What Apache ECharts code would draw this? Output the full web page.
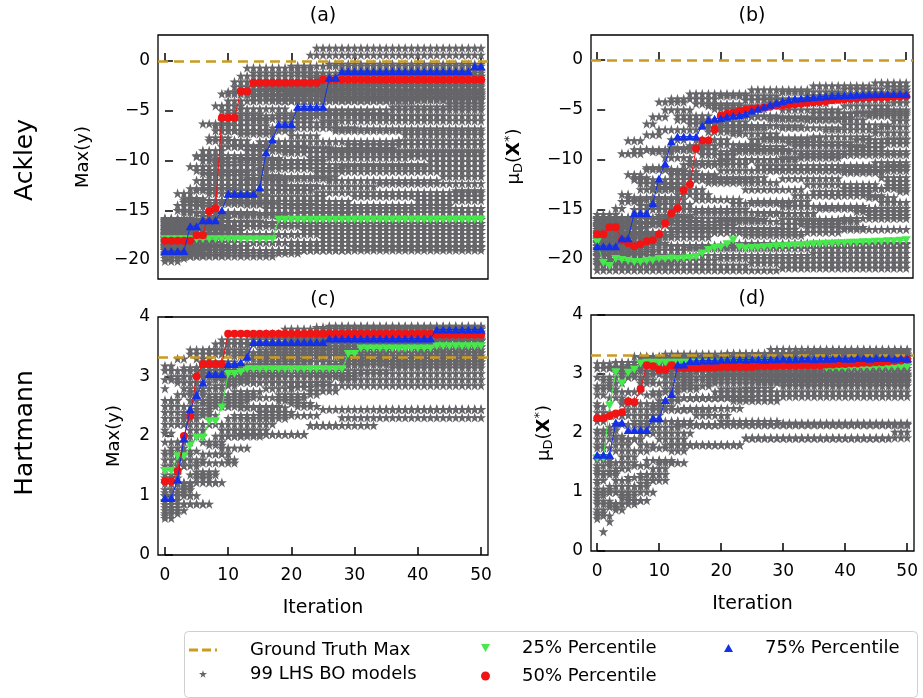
<!DOCTYPE html>
<html><head><meta charset="utf-8">
<script src="https://cdn.jsdelivr.net/npm/echarts@6/dist/echarts.min.js"></script>
<style>html,body{margin:0;padding:0;background:#fff}#c{width:923px;height:698px}</style>
</head><body><div id="c"></div><script>
// ---------------- DATA ----------------
const iterations = [0,1,2,3,4,5,6,7,8,9,10,11,12,13,14,15,16,17,18,19,20,21,22,23,24,25,26,27,28,29,30,31,32,33,34,35,36,37,38,39,40,41,42,43,44,45,46,47,48,49,50];
const xTickValues = [0,10,20,30,40,50];
const ackleyTickValues = [-20,-15,-10,-5,0];
const hartmannTickValues = [0,1,2,3,4];
const ackleyGroundTruth = 0;
const hartmannGroundTruth = 3.32;

// Each model: change points [iteration, value]; the value holds until the next change point
const ackleyMaxModels = [
 [[0,-20.1],[3,-19.6],[18,-19.0]],
 [[0,-19.5],[10,-19.0],[30,-18.7]],
 [[0,-19.0],[20,-18.6]],
 [[0,-18.6],[14,-18.2]],
 [[0,-18.2],[25,-17.8]],
 [[0,-17.8],[12,-17.4]],
 [[0,-17.4],[22,-17.0]],
 [[0,-17.0],[8,-16.6]],
 [[0,-16.6],[16,-16.3]],
 [[0,-16.2],[18,-15.9]],
 [[0,-15.8],[5,-15.3],[30,-14.8]],
 [[0,-17.5],[4,-10.6],[8,-4.5],[13,-0.7],[24,1.3]],
 [[0,-18.5],[3,-13.8],[6,-6.3],[11,-2.1],[20,-0.5]],
 [[0,-16.0],[2,-14.5],[6,-9.0],[10,-3.1],[28,-1.0]],
 [[0,-17.0],[4,-12.8],[9,-5.0],[12,-1.5]],
 [[0,-18.8],[5,-11.0],[10,-4.0],[15,-2.4],[35,-1.5]],
 [[0,-16.4],[7,-8.0],[12,-2.9],[30,-2.0]],
 [[0,-17.6],[8,-6.5],[13,-3.4],[22,-2.4]],
 [[0,-19.2],[6,-12.0],[14,-4.0],[26,-2.9]],
 [[0,-15.9],[9,-9.5],[16,-3.4]],
 [[0,-17.9],[10,-7.0],[18,-4.0],[40,-3.4]],
 [[0,-16.9],[12,-5.5],[45,-4.3]],
 [[0,-18.1],[8,-10.5],[20,-7.5],[25,-6.0]],
 [[0,-17.3],[6,-12.5],[15,-8.1],[38,-7.4]],
 [[0,-18.7],[10,-11.5],[19,-9.2]],
 [[0,-16.7],[11,-12.0],[20,-10.4],[42,-10.1]],
 [[0,-19.0],[14,-13.0],[24,-11.1]],
 [[0,-17.7],[12,-13.6],[26,-12.0],[44,-11.6]],
 [[0,-18.3],[9,-14.1],[30,-13.6]],
 [[0,-16.1],[16,-14.8],[40,-14.0]],
 [[0,-19.3],[22,-15.2]],
 [[0,-17.2],[5,-13.0],[9,-7.0],[21,-1.2]],
 [[0,-18.9],[7,-11.0],[17,-2.6]],
 [[0,-16.3],[8,-9.8],[19,-3.0]],
 [[0,-17.5],[9,-8.6],[23,-1.7]],
 [[0,-18.5],[10,-12.5],[25,-3.7]],
 [[0,-16.8],[11,-6.0],[17,-3.9]],
 [[0,-19.6],[6,-14.3],[13,-11.8],[27,-6.8]],
 [[0,-17.0],[13,-9.0],[21,-5.0],[33,-3.2]],
 [[0,-18.0],[7,-13.3],[15,-10.8],[29,-8.4]],
 [[0,-16.0],[3,-14.0],[12,-7.3],[18,-5.3],[36,-4.6]],
 [[0,-17.8],[5,-9.5],[9,-3.3],[14,-1.2],[26,-0.3]],
 [[0,-18.2],[7,-7.7],[11,-2.6],[23,0.6]],
 [[0,-18.4],[2,-15.0],[5,-12.0],[9,-6.0],[14,-3.6]],
 [[0,-17.1],[3,-14.2],[6,-10.0],[10,-5.3],[16,-2.8],[33,-2.2]],
 [[0,-19.8],[4,-13.8],[7,-11.5],[11,-8.5],[17,-6.7],[31,-5.5]],
 [[0,-16.6],[5,-14.6],[8,-12.8],[12,-10.0],[22,-8.8],[37,-8.0]],
 [[0,-18.0],[6,-15.6],[10,-13.0],[16,-11.6],[28,-10.6]],
 [[0,-17.3],[9,-15.4],[13,-14.4],[24,-13.2]],
 [[0,-18.6],[4,-16.0],[7,-14.0],[12,-9.8],[19,-6.2],[28,-3.9]],
 [[0,-16.2],[2,-13.3],[5,-9.6],[8,-7.0],[12,-4.8],[20,-3.2]],
 [[0,-17.7],[6,-11.3],[9,-8.0],[14,-5.8],[24,-4.9]],
 [[0,-19.0],[8,-15.8],[11,-14.3],[18,-12.6],[34,-12.3]],
 [[0,-18.8],[12,-15.5],[20,-14.5],[46,-13.0]],
 [[0,-16.5],[10,-15.2],[15,-13.0],[23,-9.7],[39,-9.6]],
 [[0,-17.4],[3,-15.2],[9,-11.2],[14,-8.7],[27,-7.0]],
 [[0,-18.1],[5,-16.3],[8,-10.2],[12,-6.5],[17,-3.6],[24,-2.0]],
 [[0,-19.4],[7,-16.1],[11,-13.5],[17,-10.0],[26,-9.0]]
];
const ackleyMaxP25 = [-17.9,-17.9,-17.9,-17.9,-17.9,-17.9,-17.9,-17.9,-17.9,-17.9,-17.9,-17.9,-17.9,-17.9,-17.9,-17.9,-17.9,-17.9,
 -15.95,-15.95,-15.95,-15.95,-15.95,-15.95,-15.95,-15.95,-15.95,-15.95,-15.95,-15.95,-15.95,-15.95,-15.95,-15.95,-15.95,-15.95,-15.95,-15.95,-15.95,-15.95,-15.95,-15.95,-15.95,-15.95,-15.95,-15.95,-15.95,-15.95,-15.95,-15.95,-15.95];
const ackleyMaxP50 = [-18.05,-18.05,-18.05,-18.05,-18.05,-17.5,-17.5,-15.1,-14.8,-5.7,-5.7,-5.7,-3.05,-3.05,
 -2.2,-2.2,-2.2,-2.2,-2.2,-2.2,-2.2,-2.2,-2.2,-2.2,-2.2,
 -1.9,-1.9,-1.9,-1.9,-1.9,-1.9,-1.9,-1.9,-1.9,-1.9,-1.9,-1.9,-1.9,-1.9,-1.9,-1.9,-1.9,-1.9,-1.9,-1.9,-1.9,-1.9,-1.9,-1.9,-1.9,-1.9];
const ackleyMaxP75 = [-19.1,-19.1,-19.1,-19.1,-16.6,-16.6,-16.0,-16.0,-16.0,-15.0,-13.35,-13.35,-13.35,-13.35,-13.35,-12.7,-9.2,-7.9,-6.35,-6.35,-6.35,
 -4.6,-4.6,-4.6,-4.6,-4.6,-1.7,-1.7,
 -1.05,-1.05,-1.05,-1.05,-1.05,-1.05,-1.05,-1.05,-1.05,-1.05,-1.05,-1.05,-1.05,-1.05,-1.05,-1.05,-1.05,-1.05,-1.05,-1.05,-1.05,-0.55,-0.55];

const ackleyMuModels = [
 [[0,-21.1],[30,-20.9]],
 [[0,-20.6],[25,-20.4]],
 [[0,-20.1],[20,-19.9]],
 [[0,-19.6],[35,-19.4]],
 [[0,-19.1],[15,-18.9]],
 [[0,-18.6],[22,-18.4]],
 [[0,-18.0],[6,-18.4],[12,-18.7],[30,-18.5]],
 [[0,-17.5],[10,-17.8],[19,-17.3],[40,-17.0]],
 [[0,-17.0],[8,-17.3],[24,-17.6],[34,-16.8],[44,-15.6]],
 [[0,-16.5],[12,-16.9],[30,-16.5],[40,-15.9]],
 [[0,-16.0],[7,-16.3],[20,-16.0],[28,-15.4],[36,-14.9],[46,-14.3]],
 [[0,-15.5],[4,-15.8],[16,-15.3],[30,-14.7],[38,-13.6],[47,-12.6]],
 [[0,-17.2],[4,-9.4],[8,-9.0],[20,-9.2]],
 [[0,-18.2],[6,-14.0],[12,-11.5],[20,-11.1]],
 [[0,-16.8],[9,-13.0],[18,-12.3],[30,-11.9],[40,-11.3],[47,-10.6]],
 [[0,-19.3],[10,-15.0],[22,-14.4],[32,-13.6],[40,-12.9],[47,-12.2]],
 [[0,-17.7],[11,-12.0],[24,-10.0],[33,-9.5],[41,-8.8],[47,-7.9]],
 [[0,-20.3],[14,-15.9],[26,-15.4],[36,-14.7],[44,-13.8],[49,-13.2]],
 [[0,-16.2],[7,-12.4],[14,-10.5],[25,-8.0],[35,-7.7],[45,-7.3]],
 [[0,-18.9],[9,-14.5],[16,-12.0],[26,-10.6],[45,-10.3]],
 [[0,-16.0],[3,-14.9],[5,-8.1],[8,-6.4],[10,-4.2],[15,-3.4],[25,-3.0],[35,-2.6],[45,-2.3]],
 [[0,-17.0],[4,-13.5],[6,-9.0],[9,-5.7],[12,-3.9],[20,-3.6],[30,-3.2],[40,-2.9],[47,-2.7]],
 [[0,-18.0],[5,-11.5],[8,-7.5],[11,-5.0],[16,-4.4],[24,-4.0],[34,-3.6],[44,-3.3]],
 [[0,-16.7],[6,-12.0],[10,-7.0],[13,-5.6],[19,-4.9],[28,-4.3],[38,-4.0],[48,-3.8]],
 [[0,-19.0],[7,-13.0],[12,-8.0],[15,-6.4],[21,-5.6],[30,-5.0],[40,-4.6],[48,-4.3]],
 [[0,-17.4],[8,-11.0],[13,-7.0],[17,-6.2],[25,-5.7],[35,-5.3],[45,-5.0]],
 [[0,-18.4],[9,-12.8],[14,-9.0],[18,-7.2],[24,-6.6],[34,-6.0],[44,-5.6]],
 [[0,-15.8],[5,-13.8],[11,-9.8],[16,-8.0],[22,-7.4],[30,-6.8],[40,-6.5],[48,-6.1]],
 [[0,-20.0],[10,-14.0],[15,-10.5],[20,-8.5],[27,-7.8],[37,-7.0],[46,-6.7]],
 [[0,-16.4],[12,-11.2],[17,-9.5],[23,-8.7],[31,-8.3],[42,-8.0]],
 [[0,-17.8],[6,-15.0],[10,-12.5],[15,-10.2],[22,-9.0],[32,-8.6],[44,-8.4]],
 [[0,-19.5],[8,-16.0],[13,-13.5],[19,-11.8],[28,-11.0],[40,-10.8]],
 [[0,-16.6],[4,-14.2],[8,-10.8],[12,-8.8],[18,-6.8],[28,-5.9],[40,-5.4]],
 [[0,-18.7],[7,-14.6],[11,-11.0],[15,-8.6],[20,-6.6],[30,-5.8],[42,-5.2]],
 [[0,-17.3],[10,-15.6],[16,-14.0],[24,-13.0],[34,-12.5],[46,-11.8]],
 [[0,-20.5],[12,-17.0],[20,-16.2],[30,-16.0],[42,-15.2]],
 [[0,-15.9],[6,-11.8],[9,-9.2],[13,-6.0],[18,-4.6],[27,-3.9],[38,-3.4],[48,-3.0]],
 [[0,-18.3],[9,-13.8],[14,-11.6],[20,-10.0],[30,-9.8],[40,-9.5]],
 [[0,-17.9],[11,-16.2],[17,-15.0],[25,-14.2],[35,-13.2],[45,-12.9]],
 [[0,-19.7],[5,-17.6],[13,-16.6],[23,-17.0],[33,-16.2],[43,-14.9]]
];
const ackleyMuP25 = [-18.3,-20.4,-20.7,-20.0,-20.1,-20.2,-20.3,-20.3,-20.2,-20.15,-20.0,-20.0,-19.95,-20.0,-19.95,-19.9,-19.8,-19.45,-19.1,-18.9,
 -18.8,-18.5,-18.1,-18.8,-18.95,-18.9,-18.85,-18.8,-18.75,-18.7,-18.7,-18.65,-18.6,-18.6,-18.55,-18.5,-18.5,-18.45,-18.45,-18.4,
 -18.4,-18.35,-18.35,-18.3,-18.3,-18.25,-18.25,-18.2,-18.2,-18.15,-18.1];
const ackleyMuP50 = [-17.5,-17.5,-16.8,-16.8,-18.1,-18.4,-18.7,-18.5,-18.2,-18.1,-17.5,-16.4,-15.4,-14.9,-13.1,-12.5,-8.9,-8.1,-8.1,-7.0,
 -5.6,-5.4,-5.3,-5.15,-5.0,-4.9,-4.85,-4.75,-4.7,-4.6,-4.55,-4.5,-4.45,-4.4,-4.3,-4.25,-4.2,-4.15,-4.05,-4.0,
 -3.95,-3.9,-3.88,-3.83,-3.8,-3.77,-3.74,-3.72,-3.7,-3.68,-3.66];
const ackleyMuP75 = [-18.7,-18.7,-18.7,-18.7,-17.9,-17.9,-15.4,-15.4,-15.4,-14.4,-11.9,-10.4,-8.2,-7.7,-7.7,-7.7,-7.7,-6.6,-6.0,-5.9,
 -5.85,-5.7,-5.6,-5.55,-5.4,-5.1,-4.9,-4.7,-4.5,-4.3,-4.15,-4.0,-3.9,-3.85,-3.8,-3.75,-3.7,-3.65,-3.6,-3.58,
 -3.55,-3.52,-3.5,-3.48,-3.45,-3.44,-3.43,-3.42,-3.42,-3.42,-3.45];

const hartmannMaxModels = [
 [[0,0.62],[2,0.86],[8,1.22],[10,1.6],[12,2.03],[23,2.18],[28,2.31]],
 [[0,0.70],[3,0.86],[7,1.22],[9,1.8],[14,2.03],[23,2.18],[34,2.45]],
 [[0,0.80],[2,1.1],[5,1.4],[9,2.0],[16,2.65],[23,2.76],[28,2.95]],
 [[0,0.9],[1,1.2],[4,1.6],[7,2.2],[12,2.48],[20,2.82],[24,3.05]],
 [[0,1.0],[3,1.5],[6,1.9],[10,2.3],[18,2.6],[22,3.0],[30,3.3]],
 [[0,1.1],[2,1.7],[5,2.2],[8,2.6],[14,2.9],[26,3.2],[32,3.4]],
 [[0,1.25],[1,1.5],[4,2.0],[7,2.5],[11,2.75],[16,3.0],[22,3.25],[40,3.45]],
 [[0,1.35],[3,2.3],[6,2.7],[9,3.0],[19,3.15],[28,3.3]],
 [[0,1.5],[2,1.9],[5,2.45],[8,2.85],[12,3.1],[20,3.35],[35,3.5]],
 [[0,1.6],[4,2.6],[7,3.0],[15,3.25],[27,3.4]],
 [[0,1.75],[2,2.2],[5,2.8],[10,3.05],[18,3.45],[29,3.6]],
 [[0,1.9],[3,2.5],[6,3.05],[13,3.3],[24,3.55],[38,3.7]],
 [[0,2.05],[2,2.7],[5,3.1],[11,3.35],[21,3.65],[33,3.8]],
 [[0,2.2],[4,2.9],[8,3.2],[17,3.5],[30,3.75]],
 [[0,2.4],[1,2.6],[3,3.0],[9,3.4],[20,3.6],[26,3.85]],
 [[0,2.6],[2,2.9],[6,3.25],[12,3.55],[25,3.7]],
 [[0,2.8],[1,3.0],[4,3.38],[10,3.55],[19,3.8]],
 [[0,2.95],[3,3.15],[7,3.45],[14,3.65]],
 [[0,3.1],[5,3.3],[8,3.55],[16,3.72],[24,3.83]],
 [[0,3.18],[2,3.3],[4,3.45],[9,3.62]],
 [[0,2.3],[6,2.55],[13,2.65],[16,2.8],[21,3.1],[36,3.15]],
 [[0,1.2],[5,1.35],[9,2.1],[15,2.4],[21,2.5],[25,3.0],[31,3.25]],
 [[0,1.0],[3,1.22],[8,1.55],[12,2.2],[18,2.7],[25,3.35]],
 [[0,0.75],[4,1.0],[6,1.7],[11,2.35],[17,2.9],[23,3.5]],
 [[0,0.66],[1,0.8],[3,1.0],[5,1.3],[8,1.7],[11,2.1],[17,2.35],[25,2.45]],
 [[0,0.85],[2,1.05],[4,1.35],[7,1.85],[10,2.5],[19,2.9],[27,3.2]],
 [[0,1.05],[1,1.3],[3,1.75],[6,2.35],[9,2.7],[15,3.05],[29,3.25]],
 [[0,1.3],[2,1.6],[4,2.1],[7,2.65],[13,3.15],[22,3.45],[36,3.6]],
 [[0,1.45],[1,1.8],[4,2.4],[8,2.95],[14,3.2],[23,3.75]],
 [[0,1.7],[3,2.35],[6,2.6],[10,2.9],[16,3.35],[28,3.55]],
 [[0,2.1],[1,2.4],[4,2.75],[7,3.1],[15,3.45],[31,3.8]],
 [[0,2.5],[3,2.8],[5,3.15],[12,3.4],[26,3.62]],
 [[0,0.92],[3,1.15],[5,1.55],[8,2.0],[13,2.3],[20,2.55],[24,2.85]]
];
const hartmannMaxP25 = [1.41,1.41,1.66,1.66,1.84,1.97,1.97,2.25,2.25,2.48,3.04,3.04,3.07,
 3.12,3.12,3.12,3.12,3.12,3.12,3.12,3.12,3.12,3.12,3.12,3.12,3.12,3.12,3.12,3.12,
 3.38,3.38,
 3.47,3.47,3.47,3.47,3.47,3.47,3.47,3.47,3.47,3.47,3.47,3.47,
 3.51,3.51,3.51,3.51,3.51,3.51,3.51,3.51];
const hartmannMaxP50 = [1.24,1.24,1.41,2.0,2.34,3.0,3.21,3.21,3.21,3.21,
 3.72,3.72,3.72,3.72,3.72,3.72,3.72,3.72,3.72,3.72,3.72,3.72,3.72,3.72,3.72,3.72,3.72,3.72,3.72,3.72,3.72,3.72,3.72,3.72,3.72,3.72,3.72,3.72,3.72,3.72,3.72,3.72,3.72,
 3.70,3.70,3.70,3.70,3.70,3.70,3.70,3.70];
const hartmannMaxP75 = [0.96,0.96,1.27,1.96,2.45,2.69,2.9,3.04,3.04,3.04,3.21,3.21,3.24,3.33,
 3.58,3.58,3.58,3.58,3.58,3.58,3.58,3.58,3.58,3.58,3.58,3.58,
 3.64,3.64,3.64,3.64,3.64,3.64,3.64,3.64,3.64,3.64,3.64,3.64,3.64,3.64,3.64,3.64,3.64,
 3.79,3.79,3.79,3.79,3.79,3.79,3.79,3.79];

const hartmannMuModels = [
 [[0,0.61],[1,0.33],[2,0.5],[3,0.7],[5,0.86],[9,1.2],[12,1.8],[24,1.91],[48,2.02]],
 [[0,0.7],[2,0.8],[4,0.95],[7,1.3],[10,1.54],[13,2.14]],
 [[0,0.85],[3,1.0],[6,0.86],[8,1.2],[10,1.9],[15,2.14],[20,2.2],[30,2.17]],
 [[0,0.95],[2,1.1],[5,1.25],[8,1.54],[11,2.0],[16,2.6],[24,2.76],[29,2.95]],
 [[0,1.05],[3,1.4],[6,1.7],[9,2.1],[14,2.42],[24,2.9]],
 [[0,1.15],[1,1.3],[4,1.6],[7,2.0],[12,2.6],[18,2.85]],
 [[0,1.3],[2,1.5],[5,1.9],[8,2.3],[11,2.75],[17,2.95]],
 [[0,1.45],[3,1.8],[6,2.2],[10,2.55],[14,2.9],[25,3.0]],
 [[0,1.6],[2,1.9],[4,2.3],[9,2.7],[14,3.05]],
 [[0,1.75],[3,2.15],[7,2.5],[11,2.95],[20,3.1]],
 [[0,1.9],[2,2.3],[5,2.7],[8,3.0],[16,3.15]],
 [[0,2.05],[4,2.5],[7,2.85],[12,3.12],[30,3.2]],
 [[0,2.2],[2,2.6],[5,2.95],[9,3.18],[25,3.28]],
 [[0,2.35],[3,2.7],[6,3.05],[10,3.22],[40,3.3]],
 [[0,2.5],[1,2.75],[4,3.1],[8,3.25]],
 [[0,2.65],[2,2.95],[6,3.2],[15,3.3],[32,3.38]],
 [[0,2.8],[3,3.05],[7,3.28],[21,3.35]],
 [[0,2.95],[2,3.12],[6,3.3],[28,3.42]],
 [[0,3.1],[4,3.0],[7,3.2]],
 [[0,3.18],[3,3.1],[8,3.05],[18,2.98]],
 [[0,1.0],[5,1.1],[8,1.3],[11,1.8],[16,2.3],[22,2.55],[30,2.8]],
 [[0,0.8],[4,0.8],[7,1.0],[10,1.5],[13,2.4],[19,2.7]],
 [[0,1.35],[4,1.9],[8,2.4],[11,2.85],[16,3.05],[40,3.15]],
 [[0,2.0],[3,1.9],[7,2.1],[10,2.4],[15,2.6],[26,2.88]],
 [[0,0.65],[2,0.75],[4,0.9],[6,1.1],[9,1.4],[12,1.7],[15,1.8],[24,1.92]],
 [[0,0.9],[1,1.0],[3,1.2],[6,1.45],[9,1.75],[12,2.2],[16,2.15]],
 [[0,1.2],[2,1.35],[4,1.5],[7,1.8],[10,2.2],[14,2.6],[20,2.75],[26,2.95]],
 [[0,1.4],[1,1.55],[3,1.7],[6,2.15],[9,2.45],[13,2.8],[19,3.0]],
 [[0,1.55],[3,1.95],[5,2.4],[8,2.65],[11,2.95],[16,3.1]],
 [[0,1.8],[2,2.1],[4,2.55],[7,2.9],[10,3.1],[22,3.2]],
 [[0,2.45],[2,2.85],[5,3.15],[9,3.27],[30,3.33]],
 [[0,2.75],[1,2.9],[3,3.2],[11,3.34],[35,3.4]],
 [[0,0.55],[1,0.6],[3,0.8],[5,1.0],[7,1.15],[9,1.3],[12,1.5],[15,2.6],[20,2.62]]
];
const hartmannMuP25 = [1.57,1.57,2.46,3.03,2.84,3.02,3.07,3.18,
 3.19,3.19,3.19,3.19,3.19,3.19,3.19,3.19,3.19,3.19,3.19,3.19,3.19,3.19,3.19,3.19,3.19,3.19,3.19,3.19,3.19,3.19,3.19,3.19,3.19,3.19,3.19,3.19,3.19,
 3.1,3.1,3.1,3.1,3.11,3.11,3.11,3.11,3.12,3.12,3.12,3.12,3.12,3.12];
const hartmannMuP50 = [2.25,2.25,2.29,2.33,2.35,2.54,2.52,2.75,3.15,3.13,3.07,3.07,3.15,3.1,3.1,3.1,
 3.1,3.11,3.11,3.11,3.12,3.12,3.12,3.12,3.12,3.12,
 3.13,3.13,3.13,3.14,3.14,3.14,3.14,3.15,3.15,3.15,
 3.15,3.16,3.16,3.17,3.17,3.18,3.18,3.19,3.19,3.2,3.2,3.21,3.22,3.23,3.24];
const hartmannMuP75 = [1.63,1.63,1.63,2.18,2.18,2.05,2.05,2.05,2.05,2.25,2.25,2.56,2.66,3.16,3.16,
 3.22,3.22,3.23,3.23,3.23,3.24,3.24,3.24,3.25,3.24,3.25,3.25,3.24,3.25,3.25,3.26,3.25,3.25,3.26,3.26,
 3.25,3.26,3.26,3.26,3.27,3.26,3.26,3.27,3.27,3.26,3.27,3.27,3.27,3.26,3.27,3.26];

// ---------------- CHART ----------------
const FONT = 'DejaVu Sans';
const STAR = 'path://M12,0 L14.9,8.6 L24,8.6 L16.6,14 L19.4,22.6 L12,17.3 L4.6,22.6 L7.4,14 L0,8.6 L9.1,8.6 Z';
const DOWN = 'path://M0,0 L20,0 L10,17.3 Z';
const DASH_ICON = 'path://M0,0 H9 V3 H0 Z M13,0 H22 V3 H13 Z M26,0 H28 V3 H26 Z';
const C_STAR = '#66666a', C_GT = '#cc9a20', C_25 = '#46e84c', C_50 = '#f01414', C_75 = '#1430e6';

function expand(steps) {
  const out = []; let k = 0;
  for (const it of iterations) {
    while (k + 1 < steps.length && steps[k + 1][0] <= it) k++;
    out.push([it, steps[k][1]]);
  }
  return out;
}
const minus = v => String(v).replace('-', '\u2212');

const grids = [
  {left:158, top:35, width:330, height:244},
  {left:591, top:35, width:322, height:243},
  {left:158, top:317, width:330, height:238},
  {left:591, top:315, width:323, height:236}
].map(g => Object.assign(g, {show:true, borderColor:'#000', borderWidth:1.3, backgroundColor:'transparent'}));

function xAx(gi, showLabels, min) {
  return {
    type:'value', gridIndex:gi, min:min, max:51.1,
    axisLine:{show:false}, splitLine:{show:false},
    axisTick:{show:true, inside:true, length:8, customValues:xTickValues, lineStyle:{color:'#000', width:1.5}},
    axisLabel:{show:showLabels, customValues:xTickValues, color:'#000', fontFamily:FONT, fontSize:17, margin:12},
    name: showLabels ? 'Iteration' : '', nameLocation:'middle', nameGap:44,
    nameTextStyle:{color:'#000', fontFamily:FONT, fontSize:19}
  };
}
const muName = '{m|\u03bc}{s|D}{m|(}{b|X}{p|*}{m|)}';
const muRich = {
  m:{fontSize:18, fontFamily:FONT, color:'#000'},
  s:{fontSize:13, fontFamily:FONT, color:'#000', padding:[9,0,0,0]},
  b:{fontSize:18, fontFamily:FONT, color:'#000', fontWeight:'bold'},
  p:{fontSize:13, fontFamily:FONT, color:'#000', padding:[0,0,9,0]}
};
function yAx(gi, min, max, ticks, name, gap, rich) {
  return {
    type:'value', gridIndex:gi, min:min, max:max,
    axisLine:{show:false}, splitLine:{show:false},
    axisTick:{show:true, inside:true, length:8, customValues:ticks, lineStyle:{color:'#000', width:1.5}},
    axisLabel:{customValues:ticks, color:'#000', fontFamily:FONT, fontSize:17, margin:8, formatter:minus},
    name:name, nameLocation:'middle', nameGap:gap, nameRotate:90,
    nameTextStyle:Object.assign({color:'#000', fontFamily:FONT, fontSize:18}, rich ? {rich:rich} : {})
  };
}

function starSeries(models, gi) {
  const data = [];
  models.forEach(m => expand(m).forEach(p => data.push(p)));
  return {name:'99 LHS BO models', type:'scatter', xAxisIndex:gi, yAxisIndex:gi, data:data,
    symbol:STAR, symbolSize:10, itemStyle:{color:C_STAR, opacity:1}, z:2, silent:true};
}
function gtSeries(v, gi) {
  return {name:'Ground Truth Max', type:'line', xAxisIndex:gi, yAxisIndex:gi, data:[], symbol:'none',
    lineStyle:{color:C_GT, width:2.6, type:[10,6]}, itemStyle:{color:C_GT}, z:3,
    markLine:{silent:true, symbol:'none', label:{show:false}, animation:false,
      lineStyle:{color:C_GT, width:2.6, type:[10,6]}, data:[{yAxis:v}]}};
}
function pctSeries(name, vals, gi, sym, size, color, z) {
  return {name:name, type:'line', xAxisIndex:gi, yAxisIndex:gi,
    data: vals.map((v, i) => [iterations[i], v]),
    symbol:sym, symbolSize:size, showSymbol:true,
    lineStyle:{color:color, width:1}, itemStyle:{color:color}, z:z, silent:true};
}
function panel(gi, models, gt, p25, p50, p75) {
  return [
    starSeries(models, gi),
    gtSeries(gt, gi),
    pctSeries('25% Percentile', p25, gi, DOWN, [9,8], C_25, 4),
    pctSeries('50% Percentile', p50, gi, 'circle', 8, C_50, 5),
    pctSeries('75% Percentile', p75, gi, 'triangle', [9,8], C_75, 6)
  ];
}

const legendBase = {orient:'horizontal', padding:0, itemGap:0, selectedMode:false,
  textStyle:{fontFamily:FONT, fontSize:18, color:'#000'}};
function lg(o, pad) {
  const l = Object.assign({}, legendBase, o);
  l.textStyle = Object.assign({}, legendBase.textStyle, {padding:[0,0,0,pad]});
  return l;
}

const option = {
  animation:false,
  backgroundColor:'#fff',
  grid:grids,
  xAxis:[xAx(0,false,-1.1), xAx(1,false,-1), xAx(2,true,-1.1), xAx(3,true,-1)],
  yAxis:[
    yAx(0,-21.9,2.6,ackleyTickValues,'Max(y)',66),
    yAx(1,-21.9,2.5,ackleyTickValues,muName,66,muRich),
    yAx(2,0,4,hartmannTickValues,'Max(y)',35),
    yAx(3,0,4,hartmannTickValues,muName,36,muRich)
  ],
  legend:[
    lg({data:[{name:'Ground Truth Max', icon:DASH_ICON}], left:189, top:641, itemWidth:28, itemHeight:3}, 28),
    lg({data:[{name:'99 LHS BO models', icon:STAR}], left:199, top:665, itemWidth:8, itemHeight:8}, 38),
    lg({data:[{name:'25% Percentile', icon:DOWN}], left:481, top:639, itemWidth:9, itemHeight:8}, 27),
    lg({data:[{name:'50% Percentile', icon:'circle'}], left:481, top:667, itemWidth:9, itemHeight:9}, 27),
    lg({data:[{name:'75% Percentile', icon:'triangle'}], left:724, top:639, itemWidth:9, itemHeight:8}, 27)
  ],
  graphic:[
    {type:'rect', z:0, shape:{x:184.5, y:631.5, width:733, height:66, r:4}, style:{fill:'#fff', stroke:'#cfcfcf', lineWidth:1}},
    {type:'text', x:25, y:160, rotation:Math.PI/2, style:{text:'Ackley', fontFamily:FONT, fontSize:25, fill:'#000', align:'center', verticalAlign:'middle'}},
    {type:'text', x:25, y:433, rotation:Math.PI/2, style:{text:'Hartmann', fontFamily:FONT, fontSize:25, fill:'#000', align:'center', verticalAlign:'middle'}},
    {type:'text', x:323, y:16, style:{text:'(a)', fontFamily:FONT, fontSize:19, fill:'#000', align:'center', verticalAlign:'middle'}},
    {type:'text', x:752, y:16, style:{text:'(b)', fontFamily:FONT, fontSize:19, fill:'#000', align:'center', verticalAlign:'middle'}},
    {type:'text', x:323, y:300, style:{text:'(c)', fontFamily:FONT, fontSize:19, fill:'#000', align:'center', verticalAlign:'middle'}},
    {type:'text', x:752, y:299, style:{text:'(d)', fontFamily:FONT, fontSize:19, fill:'#000', align:'center', verticalAlign:'middle'}}
  ],
  series:[].concat(
    panel(0, ackleyMaxModels, ackleyGroundTruth, ackleyMaxP25, ackleyMaxP50, ackleyMaxP75),
    panel(1, ackleyMuModels, ackleyGroundTruth, ackleyMuP25, ackleyMuP50, ackleyMuP75),
    panel(2, hartmannMaxModels, hartmannGroundTruth, hartmannMaxP25, hartmannMaxP50, hartmannMaxP75),
    panel(3, hartmannMuModels, hartmannGroundTruth, hartmannMuP25, hartmannMuP50, hartmannMuP75)
  )
};
const chart = echarts.init(document.getElementById('c'), null, {renderer:'canvas'});
chart.setOption(option);
</script></body></html>
